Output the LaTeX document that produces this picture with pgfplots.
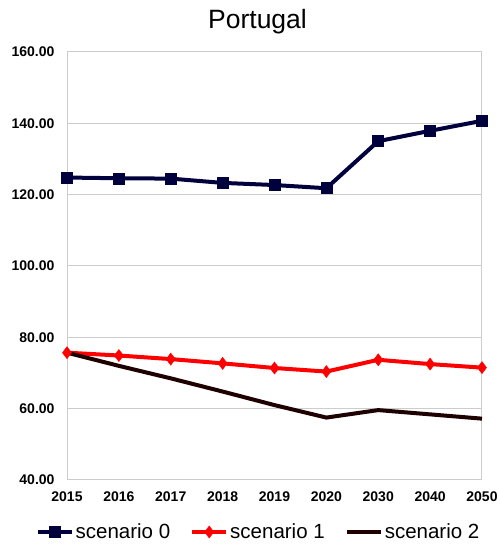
\documentclass[border=0pt]{standalone}
\usepackage{pgfplots}
\pgfplotsset{compat=1.18}
\usepackage{fontspec}
\setmainfont{Liberation Sans}
\definecolor{navyS}{HTML}{00003C}
\definecolor{redS}{HTML}{FF0000}
\definecolor{darkS}{HTML}{1E0000}
\definecolor{gridS}{HTML}{CCCCCC}
\begin{document}
\begin{tikzpicture}[x=1pt,y=1pt]
\path[use as bounding box] (0,0) rectangle (499,546);
\node[anchor=base,font=\fontsize{26.5}{30}\selectfont] at (257.5,517.5) {Portugal};
\begin{axis}[
  at={(67pt,66pt)}, anchor=south west,
  scale only axis, width=415pt, height=428pt,
  xmin=0, xmax=8, ymin=40, ymax=160,
  xtick={0,1,2,3,4,5,6,7,8},
  xticklabels={2015,2016,2017,2018,2019,2020,2030,2040,2050},
  ytick={40,60,80,100,120,140,160},
  ymajorgrids, major grid style={gridS, line width=1pt},
  axis line style={gridS, line width=1pt},
  major tick length=0pt,
  /pgf/number format/assume math mode=true,
  yticklabel={\pgfmathprintnumber[fixed,fixed zerofill,precision=2]{\tick}},
  ticklabel style={font=\fontsize{14}{16}\selectfont\bfseries},
  xticklabel style={yshift=-8pt},
  yticklabel style={xshift=-9pt},
  clip=false,
  legend columns=3,
  legend style={draw=none, fill=none, at={(0.5,0)}, anchor=center, yshift=-52pt, xshift=-16pt,
    font=\fontsize{20.5}{24}\selectfont, inner sep=0pt,
    /tikz/every even column/.append style={column sep=18pt}},
  legend cell align=left,
  legend image code/.code={\draw[mark repeat=2,mark phase=2,#1] plot coordinates {(0pt,0pt) (17pt,0pt) (34pt,0pt)};},
]
\addplot[navyS, line width=4pt, mark=square*, mark size=5.5pt, mark options={line width=0.5pt}] coordinates {
(0,124.8) (1,124.6) (2,124.5) (3,123.3) (4,122.7) (5,121.8) (6,135.0) (7,137.9) (8,140.7)};
\addlegendentry{scenario 0}
\addplot[redS, line width=4pt, mark=diamond*, mark size=6pt, mark options={line width=0.5pt}] coordinates {
(0,75.7) (1,74.9) (2,73.9) (3,72.7) (4,71.4) (5,70.4) (6,73.7) (7,72.5) (8,71.5)};
\addlegendentry{scenario 1}
\addplot[darkS, line width=4pt] coordinates {
(0,75.7) (1,72.0) (2,68.5) (3,64.8) (4,61.0) (5,57.5) (6,59.6) (7,58.4) (8,57.2)};
\addlegendentry{scenario 2}
\end{axis}
\end{tikzpicture}
\end{document}
